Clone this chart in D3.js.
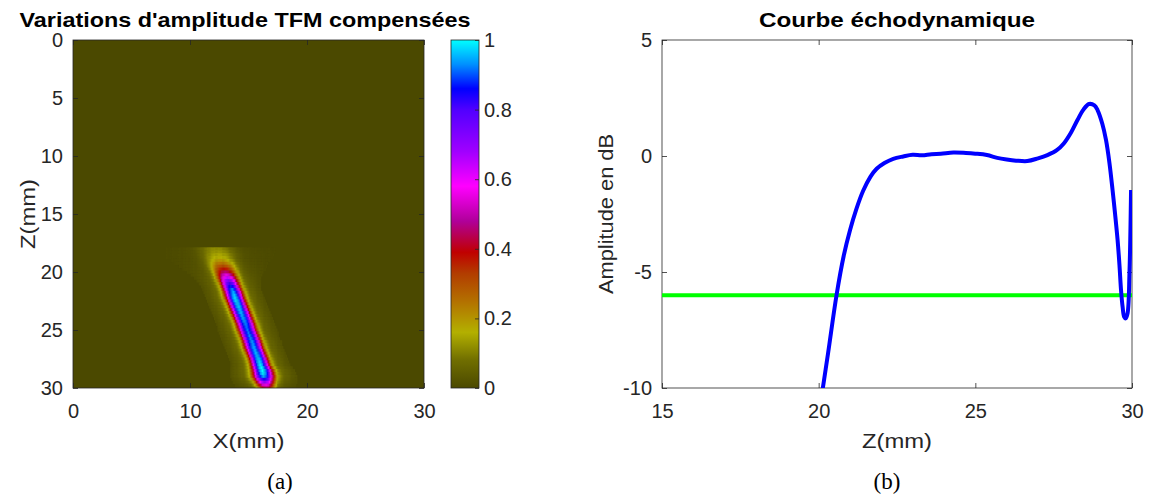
<!DOCTYPE html>
<html>
<head>
<meta charset="utf-8">
<script src="https://cdn.jsdelivr.net/npm/d3@7/dist/d3.min.js"></script>
<style>
  body { margin: 0; background: #fff; }
  svg { display: block; font-family: "Liberation Sans", Arial, Helvetica, sans-serif; }
  .tick text { fill: #262626; font-size: 20px; }
  .caption { font-family: "Liberation Serif", "DejaVu Serif", serif; font-size: 23px; fill: #000; }
</style>
</head>
<body>
<svg id="fig" width="1149" height="497"></svg>
<script>
// ---- data: compensated TFM amplitude (a) ----
// the map is 0 everywhere except a slanted echo, described row by row (z in mm)
const rowZ      = [18.00, 18.25, 18.50, 18.75, 19.00, 19.25, 19.50, 19.75, 20.00, 20.25,
                   20.50, 20.75, 21.00, 21.25, 21.50, 21.75, 22.00, 22.25, 22.50, 22.75,
                   23.00, 23.25, 23.50, 23.75, 24.00, 24.25, 24.50, 24.75, 25.00, 25.25,
                   25.50, 25.75, 26.00, 26.25, 26.50, 26.75, 27.00, 27.25, 27.50, 27.75,
                   28.00, 28.25, 28.50, 28.75, 29.00, 29.25, 29.50, 29.75, 30.00];
const rowCenter = [12.25, 12.35, 12.45, 12.5, 12.6, 12.7, 12.8, 12.9, 13.0, 13.1,
                   13.2, 13.3, 13.4, 13.5, 13.6, 13.7, 13.77, 13.85, 13.95, 14.05,
                   14.15, 14.25, 14.35, 14.45, 14.55, 14.65, 14.75, 14.82, 14.9, 15.0,
                   15.1, 15.2, 15.3, 15.38, 15.45, 15.55, 15.65, 15.75, 15.85, 15.93,
                   16.0, 16.1, 16.2, 16.25, 16.3, 16.35, 16.4, 16.45, 16.5];
const rowPeak   = [0.12, 0.13, 0.15, 0.17, 0.20, 0.25, 0.31, 0.38, 0.46, 0.55,
                   0.65, 0.74, 0.82, 0.88, 0.93, 0.95, 0.97, 0.98, 0.98, 0.97,
                   0.97, 0.96, 0.96, 0.95, 0.95, 0.94, 0.93, 0.92, 0.92, 0.92,
                   0.93, 0.93, 0.94, 0.94, 0.95, 0.95, 0.96, 0.96, 0.97, 0.98,
                   0.99, 1.0, 1.0, 0.99, 0.95, 0.85, 0.70, 0.56, 0.45];
const rowSpread = [2.0, 1.95, 1.9, 1.8, 1.7, 1.6, 1.5, 1.4, 1.3, 1.22,
                   1.15, 1.1, 1.05, 1.02, 1.0, 1.0, 1.0, 1.0, 1.0, 1.0,
                   1.0, 1.0, 1.0, 1.0, 1.0, 1.0, 1.0, 1.0, 1.0, 1.0,
                   1.0, 1.0, 1.0, 1.0, 1.0, 1.0, 1.0, 1.0, 1.0, 1.0,
                   1.0, 1.05, 1.1, 1.12, 1.15, 1.12, 1.1, 1.05, 1.0];
// cross-section of the echo (offset from its centre in mm -> relative amplitude)
const profileOffset = [-2.5, -2, -1.5, -1.25, -1, -0.75, -0.5, -0.25, 0, 0.25, 0.5, 0.75, 1, 1.25, 1.5, 2, 2.5];
const profileValue  = [0.02, 0.04, 0.07, 0.11, 0.19, 0.40, 0.70, 0.93, 1, 0.93, 0.70, 0.40, 0.19, 0.11, 0.07, 0.04, 0.02];

// colormap stops
const cmapStops  = [0, 0.08, 0.16, 0.25, 0.33, 0.39, 0.48, 0.58, 0.68, 0.80, 0.86, 0.93, 1];
const cmapColors = ['#4b4900', '#706e00', '#b3b000', '#b37000', '#b23c00', '#c00000', '#b0009a',
                    '#ff00ff', '#a000ff', '#5000ff', '#0000ff', '#0090ff', '#00ffff'];

const mapXTicks = [0, 10, 20, 30];
const mapZTicks = [0, 5, 10, 15, 20, 25, 30];
const barTicks  = [0, 0.2, 0.4, 0.6, 0.8, 1];

// ---- data: echodynamic curve (b) ----
const curveZ  = [20.10, 20.30, 20.57, 20.80, 21.00, 21.20, 21.42, 21.65, 21.85, 22.10, 22.38, 22.70,
                 23.00, 23.30, 23.60, 23.90, 24.30, 24.70, 25.00, 25.37, 25.70, 26.00, 26.30, 26.66,
                 27.00, 27.30, 27.60, 27.83, 28.05, 28.26, 28.45, 28.63, 28.80, 28.90, 29.05, 29.17,
                 29.28, 29.38, 29.46, 29.54, 29.60, 29.65, 29.70, 29.75, 29.80, 29.86, 29.92, 29.97];
const curveDB = [-10.3, -8.5, -6.0, -4.3, -3.2, -2.3, -1.5, -0.9, -0.55, -0.3, -0.12, -0.02,
                 0.05, 0.03, 0.08, 0.10, 0.15, 0.13, 0.10, 0.04, -0.08, -0.15, -0.20, -0.22,
                 -0.10, 0.04, 0.25, 0.55, 1.0, 1.55, 2.0, 2.24, 2.18, 1.98, 1.4, 0.69,
                 -0.3, -1.47, -2.5, -3.62, -4.7, -5.78, -6.5, -6.93, -7.0, -6.77, -5.0, -1.47];
const thresholdDB = -6;
const curveZTicks = [15, 20, 25, 30];
const curveDBTicks = [-10, -5, 0, 5];

const axisColor = '#262626';
const svg = d3.select('#fig');
const defs = svg.append('defs');

function styleAxis(g) {
  g.select('.domain').remove();
  g.selectAll('.tick line').attr('stroke', axisColor).attr('stroke-width', 0.8);
  g.selectAll('.tick text').attr('font-family', null).attr('font-size', null);
}

function drawBox(x0, y0, x1, y1) {
  svg.append('rect')
    .attr('x', x0).attr('y', y0)
    .attr('width', x1 - x0).attr('height', y1 - y0)
    .attr('fill', 'none').attr('stroke', axisColor).attr('stroke-width', 0.8);
}

function label(x, y, txt, len, rotate) {
  svg.append('text')
    .attr('transform', `translate(${x},${y})` + (rotate ? ' rotate(-90)' : ''))
    .attr('text-anchor', 'middle').attr('font-size', 21).attr('fill', axisColor)
    .attr('textLength', len).attr('lengthAdjust', 'spacingAndGlyphs')
    .text(txt);
}

function title(x, txt, len) {
  svg.append('text')
    .attr('x', x).attr('y', 27)
    .attr('text-anchor', 'middle')
    .attr('font-weight', 'bold').attr('font-size', 21)
    .attr('textLength', len).attr('lengthAdjust', 'spacingAndGlyphs')
    .text(txt);
}

const fmt = d => String(d);

// ================= (a) heat map =================
const mx = d3.scaleLinear().domain([0, 30]).range([73, 424]);
const mz = d3.scaleLinear().domain([0, 30]).range([40, 388]);
const color = d3.scaleLinear().domain(cmapStops).range(cmapColors).clamp(true);
const profile = d3.scaleLinear().domain(profileOffset).range(profileValue).clamp(true);

defs.append('clipPath').attr('id', 'mapClip')
  .append('rect').attr('x', mx(0)).attr('y', mz(0))
  .attr('width', mx(30) - mx(0)).attr('height', mz(30) - mz(0));

const mapG = svg.append('g').attr('clip-path', 'url(#mapClip)');
mapG.append('rect')
  .attr('x', mx(0)).attr('y', mz(0))
  .attr('width', mx(30) - mx(0)).attr('height', mz(30) - mz(0))
  .attr('fill', color(0));

const dx = 0.1, dz = 0.25;
const cells = [];
rowZ.forEach((z, i) => {
  for (let k = 0; k <= 130; k++) {
    const x = 8 + k * dx;
    const off = (x - rowCenter[i]) / rowSpread[i];
    if (Math.abs(off) > 2.5) continue;
    cells.push({x: x, z: z, v: rowPeak[i] * profile(off)});
  }
});

mapG.selectAll('rect.cell')
  .data(cells)
  .enter().append('rect')
  .attr('class', 'cell')
  .attr('x', d => mx(d.x - dx / 2))
  .attr('y', d => mz(d.z - dz / 2))
  .attr('width', mx(dx) - mx(0) + 0.4)
  .attr('height', mz(dz) - mz(0) + 0.4)
  .attr('fill', d => color(d.v));

svg.append('g').attr('transform', `translate(0,${mz(30)})`)
  .call(d3.axisBottom(mx).tickValues(mapXTicks).tickSize(-5).tickPadding(16).tickFormat(fmt))
  .call(styleAxis);
svg.append('g').attr('transform', `translate(0,${mz(0)})`)
  .call(d3.axisTop(mx).tickValues(mapXTicks).tickSize(-5).tickFormat(''))
  .call(styleAxis);
svg.append('g').attr('transform', `translate(${mx(0)},0)`)
  .call(d3.axisLeft(mz).tickValues(mapZTicks).tickSize(-5).tickPadding(10).tickFormat(fmt))
  .call(styleAxis);
svg.append('g').attr('transform', `translate(${mx(30)},0)`)
  .call(d3.axisRight(mz).tickValues(mapZTicks).tickSize(-5).tickFormat(''))
  .call(styleAxis);
drawBox(mx(0), mz(0), mx(30), mz(30));

title(245, "Variations d'amplitude TFM compensées", 451);
label(mx(15), 448, 'X(mm)', 72, false);
label(35, mz(15), 'Z(mm)', 70, true);

// colour bar
const cb = d3.scaleLinear().domain([0, 1]).range([388, 40]);
const grad = defs.append('linearGradient')
  .attr('id', 'cbGrad').attr('x1', 0).attr('y1', 1).attr('x2', 0).attr('y2', 0);
grad.selectAll('stop')
  .data(cmapStops)
  .enter().append('stop')
  .attr('offset', d => d)
  .attr('stop-color', (d, i) => cmapColors[i]);
svg.append('rect')
  .attr('x', 451).attr('y', cb(1))
  .attr('width', 28).attr('height', cb(0) - cb(1))
  .attr('fill', 'url(#cbGrad)')
  .attr('stroke', axisColor).attr('stroke-width', 0.8);
svg.append('g').attr('transform', 'translate(479,0)')
  .call(d3.axisRight(cb).tickValues(barTicks).tickSize(-4).tickPadding(5).tickFormat(fmt))
  .call(styleAxis);

// ================= (b) echodynamic curve =================
const cx = d3.scaleLinear().domain([15, 30]).range([662, 1132]);
const cy = d3.scaleLinear().domain([-10, 5]).range([388, 40]);

defs.append('clipPath').attr('id', 'curveClip')
  .append('rect').attr('x', cx(15)).attr('y', cy(5))
  .attr('width', cx(30) - cx(15)).attr('height', cy(-10) - cy(5));

svg.append('g').attr('transform', `translate(0,${cy(-10)})`)
  .call(d3.axisBottom(cx).tickValues(curveZTicks).tickSize(-5).tickPadding(16).tickFormat(fmt))
  .call(styleAxis);
svg.append('g').attr('transform', `translate(0,${cy(5)})`)
  .call(d3.axisTop(cx).tickValues(curveZTicks).tickSize(-5).tickFormat(''))
  .call(styleAxis);
svg.append('g').attr('transform', `translate(${cx(15)},0)`)
  .call(d3.axisLeft(cy).tickValues(curveDBTicks).tickSize(-5).tickPadding(10).tickFormat(fmt))
  .call(styleAxis);
svg.append('g').attr('transform', `translate(${cx(30)},0)`)
  .call(d3.axisRight(cy).tickValues(curveDBTicks).tickSize(-5).tickFormat(''))
  .call(styleAxis);
drawBox(cx(15), cy(5), cx(30), cy(-10));

const plotG = svg.append('g').attr('clip-path', 'url(#curveClip)');
plotG.append('line')
  .attr('x1', cx(15)).attr('x2', cx(30))
  .attr('y1', cy(thresholdDB)).attr('y2', cy(thresholdDB))
  .attr('stroke', '#00ff00').attr('stroke-width', 4);

plotG.append('path')
  .datum(curveDB)
  .attr('d', d3.line().x((d, i) => cx(curveZ[i])).y(d => cy(d)).curve(d3.curveCatmullRom.alpha(0.5)))
  .attr('fill', 'none')
  .attr('stroke', '#0000ff').attr('stroke-width', 4)
  .attr('stroke-linejoin', 'round');

title(cx(22.5), 'Courbe échodynamique', 276);
label(cx(22.5), 448, 'Z(mm)', 70, false);
label(613, cy(-2.5), 'Amplitude en dB', 160, true);

// sub-figure captions
svg.append('text').attr('class', 'caption')
  .attr('x', 280).attr('y', 489).attr('text-anchor', 'middle').text('(a)');
svg.append('text').attr('class', 'caption')
  .attr('x', 887).attr('y', 489).attr('text-anchor', 'middle').text('(b)');
</script>
</body>
</html>
